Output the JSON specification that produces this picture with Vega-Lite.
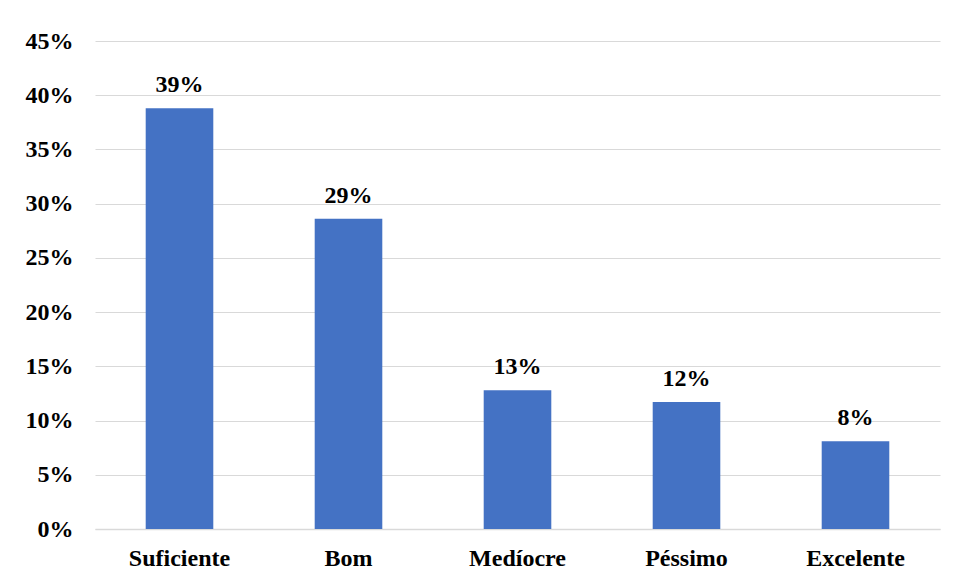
{
  "$schema": "https://vega.github.io/schema/vega-lite/v6.json",
  "autosize": {"type": "none"},
  "padding": {"left": 95, "top": 41, "right": 14, "bottom": 52},
  "width": 845,
  "height": 488,
  "background": "white",
  "config": {
    "view": {"stroke": null},
    "font": "Liberation Serif"
  },
  "data": {
    "values": [
      {"categoria": "Suficiente", "valor": 0.388},
      {"categoria": "Bom", "valor": 0.286},
      {"categoria": "Medíocre", "valor": 0.128},
      {"categoria": "Péssimo", "valor": 0.117},
      {"categoria": "Excelente", "valor": 0.081}
    ]
  },
  "encoding": {
    "x": {
      "field": "categoria",
      "type": "nominal",
      "sort": null,
      "scale": {"paddingInner": 0.6, "paddingOuter": 0.3},
      "axis": {
        "title": null,
        "labelAngle": 0,
        "labelFont": "Liberation Serif",
        "labelFontSize": 24,
        "labelFontWeight": "bold",
        "labelColor": "black",
        "labelPadding": 17,
        "ticks": false,
        "domainColor": "#d9d9d9",
        "domainWidth": 1.5
      }
    },
    "y": {
      "field": "valor",
      "type": "quantitative",
      "scale": {"domain": [0, 0.45], "nice": false},
      "axis": {
        "title": null,
        "format": ".0%",
        "values": [0, 0.05, 0.1, 0.15, 0.2, 0.25, 0.3, 0.35, 0.4, 0.45],
        "labelFont": "Liberation Serif",
        "labelFontSize": 24,
        "labelFontWeight": "bold",
        "labelColor": "black",
        "labelPadding": 22,
        "ticks": false,
        "domain": false,
        "gridColor": "#d9d9d9",
        "gridWidth": 1.2
      }
    }
  },
  "layer": [
    {"mark": {"type": "bar", "color": "#4472C4"}},
    {
      "mark": {"type": "text", "font": "Liberation Serif", "fontSize": 24, "fontWeight": "bold", "color": "black", "baseline": "alphabetic", "dy": -16},
      "encoding": {"text": {"field": "valor", "type": "quantitative", "format": ".0%"}}
    }
  ]
}
